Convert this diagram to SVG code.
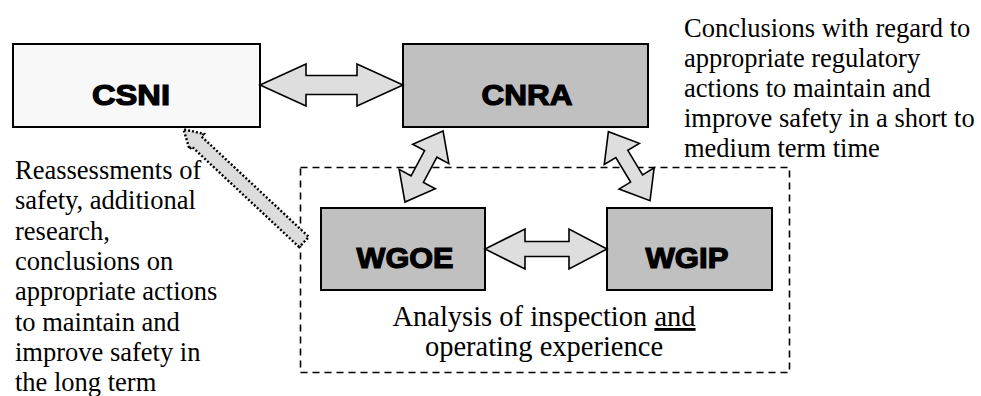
<svg xmlns="http://www.w3.org/2000/svg" width="981" height="396" viewBox="0 0 981 396">
<style>
.box{stroke:#000;stroke-width:2}
.dark{fill:#c0c0c0}
.light{fill:#f8f8f8}
.lbl{font-family:"Liberation Sans",Arial,sans-serif;font-weight:bold;font-size:29px;fill:#000;stroke:#000;stroke-width:1.2;text-anchor:middle}
.arr{fill:#dedede;stroke:#000;stroke-width:1.6;stroke-linejoin:miter}
.dot{fill:#dcdcdc;stroke:#000;stroke-width:2.4;stroke-dasharray:2 2}
.txt{font-family:"Liberation Serif","Times New Roman",serif;font-size:26.5px;fill:#000}
.ctr{font-family:"Liberation Serif","Times New Roman",serif;font-size:28.5px;fill:#000;text-anchor:middle}
</style>
<rect x="300.5" y="167.5" width="489" height="205" fill="none" stroke="#000" stroke-width="1.6" stroke-dasharray="7 5"/>
<g id="CSNI">
<rect class="box light" x="13" y="44" width="247" height="83"/>
<text class="lbl" x="131" y="105" textLength="78" lengthAdjust="spacingAndGlyphs">CSNI</text>
</g>
<g id="CNRA">
<rect class="box dark" x="403" y="44" width="245" height="83"/>
<text class="lbl" x="527" y="105" textLength="91" lengthAdjust="spacingAndGlyphs">CNRA</text>
</g>
<g id="WGOE">
<rect class="box dark" x="321" y="208" width="164" height="82"/>
<text class="lbl" x="405" y="268" textLength="97" lengthAdjust="spacingAndGlyphs">WGOE</text>
</g>
<g id="WGIP">
<rect class="box dark" x="607" y="208" width="165" height="82"/>
<text class="lbl" x="687" y="268" textLength="83" lengthAdjust="spacingAndGlyphs">WGIP</text>
</g>
<g id="connectors">
<polygon class="arr" points="260,85 306,64 306,75.5 357,75.5 357,64 403,85 357,106 357,94.5 306,94.5 306,106"/>
<polygon class="arr" points="485,249 525,229 525,241.5 569,241.5 569,229 607,249 569,269 569,256.5 525,256.5 525,269"/>
<polygon class="arr" transform="translate(424,166.5) rotate(-61.8)" points="40.3,0 14.3,-20.5 14.3,-7 -14.3,-7 -14.3,-20.5 -40.3,0 -14.3,20.5 -14.3,7 14.3,7 14.3,20.5"/>
<polygon class="arr" transform="translate(629.2,166.2) rotate(58.9)" points="40.3,0 14.3,-20.5 14.3,-7 -14.3,-7 -14.3,-20.5 -40.3,0 -14.3,20.5 -14.3,7 14.3,7 14.3,20.5"/>
<polygon class="dot" transform="translate(304,242) rotate(-136.9)" points="0,-7 147,-7 147,-10.5 165,0 147,10.5 147,7 0,7"/>
</g>
<g id="note-left">
<text class="txt" x="15" y="179">Reassessments of</text>
<text class="txt" x="15" y="209.3">safety, additional</text>
<text class="txt" x="15" y="239.6">research,</text>
<text class="txt" x="15" y="269.9">conclusions on</text>
<text class="txt" x="15" y="300.2">appropriate actions</text>
<text class="txt" x="15" y="330.5">to maintain and</text>
<text class="txt" x="15" y="360.8">improve safety in</text>
<text class="txt" x="15" y="391.1">the long term</text>
</g>
<g id="note-right">
<text class="txt" x="684" y="37">Conclusions with regard to</text>
<text class="txt" x="684" y="67">appropriate regulatory</text>
<text class="txt" x="684" y="97">actions to maintain and</text>
<text class="txt" x="684" y="127">improve safety in a short to</text>
<text class="txt" x="684" y="157">medium term time</text>
</g>
<g id="group-label">
<text class="ctr" x="544" y="326">Analysis of inspection <tspan style="text-decoration:underline">and</tspan></text>
<text class="ctr" x="544" y="356">operating experience</text>
</g>
</svg>
